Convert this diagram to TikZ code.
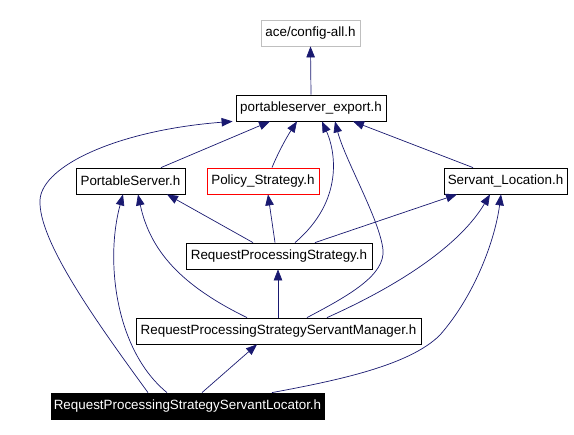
\documentclass[tikz,border=0pt]{standalone}
\usepackage{fontspec}
\setmainfont{Liberation Sans}
\usepackage{tikz}
\usetikzlibrary{arrows.meta}
\definecolor{dox-edge}{RGB}{25,25,112}
\definecolor{dox-grey}{RGB}{191,191,191}

\begin{document}
\begin{tikzpicture}[x=1pt,y=-1pt,>={Triangle[length=11pt,width=8.5pt]},
  fil/.style={draw,line width=0.8pt,minimum height=26pt,inner sep=0pt,
    font=\fontsize{13.4}{15}\selectfont},
  dep/.style={->,dox-edge,line width=0.7pt}]
  \useasboundingbox (0,0) rectangle (574,435);

  % Filer
  \node[fil,draw=dox-grey,minimum width=99pt] (cfg) at (310.5,33) {ace/config-all.h};
  \node[fil,minimum width=150pt] (pse) at (311,108) {portableserver\_export.h};
  \node[fil,minimum width=109pt] (ps) at (130.5,181) {PortableServer.h};
  \node[fil,draw=red,minimum width=112pt] (pol) at (263,181) {Policy\_Strategy.h};
  \node[fil,minimum width=123pt] (sl) at (505.5,181) {Servant\_Location.h};
  \node[fil,minimum width=186pt] (rps) at (279,256) {RequestProcessingStrategy.h};
  \node[fil,minimum width=285pt] (rpssm) at (278.5,331) {RequestProcessingStrategyServantManager.h};
  \node[fil,fill=black,text=white,minimum width=273pt] (rpssl) at (187.5,406) {RequestProcessingStrategyServantLocator.h};

  % Afhængigheder
  \draw[dep] (pse.north) -- (cfg.south);
  \draw[dep] ([xshift=30.5]ps.north) -- ([xshift=-41]pse.south);
  \draw[dep] ([xshift=9]pol.north) .. controls (280,148) and (290,132) .. ([xshift=-14]pse.south);
  \draw[dep] ([xshift=-32.5]sl.north) -- ([xshift=42]pse.south);

  \draw[dep] ([xshift=-26]rps.north) -- ([xshift=36.5]ps.south);
  \draw[dep] ([xshift=-4]rps.north) -- ([xshift=5]pol.south);
  \draw[dep] ([xshift=16]rps.north) .. controls (345,200) and (335,150) .. ([xshift=11]pse.south);
  \draw[dep] ([xshift=36]rps.north) -- ([xshift=-48.5]sl.south);

  \draw[dep] ([xshift=-31.5]rpssm.north) .. controls (180,285) and (150,250) .. ([xshift=7.5]ps.south);
  \draw[dep] ([xshift=-0.5]rpssm.north) -- ([xshift=-1]rps.south);
  \draw[dep] ([xshift=28.5]rpssm.north) .. controls (350,295) and (385,275) .. (383,250)
    .. controls (380,220) and (345,160) .. ([xshift=24]pse.south);
  \draw[dep] ([xshift=48.5]rpssm.north) .. controls (400,285) and (460,245) .. ([xshift=-15.5]sl.south);

  \draw[dep] ([xshift=-39.5]rpssl.north) .. controls (95,320) and (38,240) .. (40,200)
    .. controls (42,165) and (120,130) .. ([xshift=-3]pse.south west);
  \draw[dep] ([xshift=-20.5]rpssl.north) .. controls (115,350) and (105,260) .. ([xshift=-7.5]ps.south);
  \draw[dep] ([xshift=14.5]rpssl.north) -- ([xshift=-21.5]rpssm.south);
  \draw[dep] ([xshift=84.5]rpssl.north) .. controls (340,380) and (410,365) .. (440,335)
    .. controls (475,295) and (495,240) .. ([xshift=-4.5]sl.south);
\end{tikzpicture}
\end{document}
